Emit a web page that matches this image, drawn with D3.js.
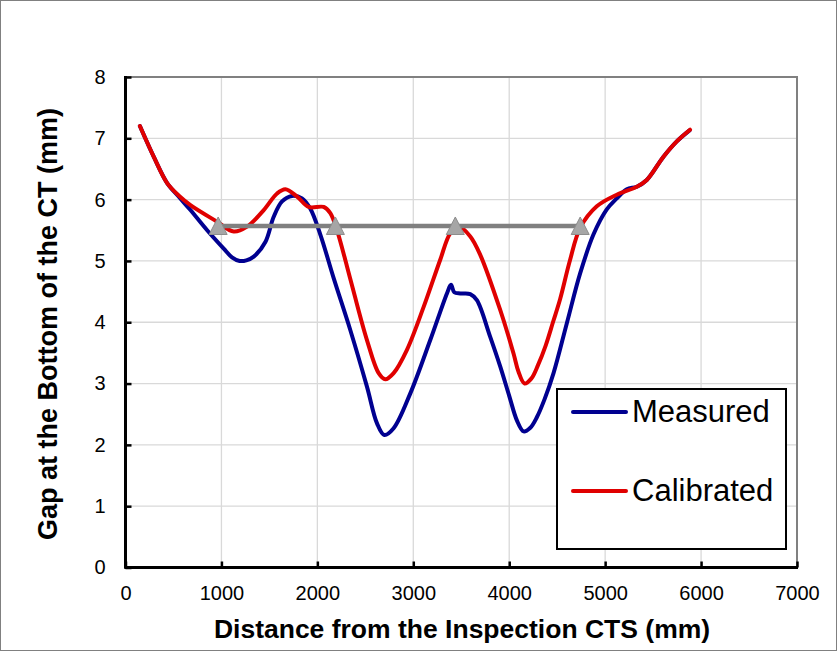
<!DOCTYPE html>
<html><head><meta charset="utf-8">
<script src="https://cdn.jsdelivr.net/npm/d3@7"></script>
<style>
html,body{margin:0;padding:0;background:#fff;}
text{font-family:"Liberation Sans",Arial,sans-serif;}
</style></head>
<body><svg id="c" width="837" height="651"></svg>
<script>
const xTicks = [0,1000,2000,3000,4000,5000,6000,7000];
const yTicks = [0,1,2,3,4,5,6,7,8];
const seriesNames = ["Measured","Calibrated"];
const measuredX = [150,300,434,560,677,851,1024,1110,1190,1260,1337,1458,1545,1632,1736,1840,1927,2031,2170,2344,2517,2622,2698,2795,2969,3177,3351,3393,3427,3490,3594,3663,3800,3906,4000,4080,4150,4220,4288,4370,4462,4600,4740,4878,5017,5122,5226,5330,5434,5608,5747,5880];
const measuredY = [7.2,6.68,6.27,6.04,5.83,5.5,5.2,5.06,5.0,5.01,5.07,5.31,5.72,5.97,6.06,6.02,5.85,5.43,4.72,3.87,2.95,2.35,2.16,2.27,2.84,3.71,4.47,4.61,4.49,4.47,4.46,4.36,3.77,3.28,2.8,2.4,2.22,2.28,2.45,2.75,3.17,3.98,4.8,5.43,5.84,6.02,6.17,6.21,6.32,6.7,6.95,7.13];
const calibratedX = [150,300,434,560,677,955,1128,1267,1441,1580,1667,1788,1910,2066,2135,2205,2309,2378,2517,2639,2708,2795,2934,3108,3281,3385,3472,3594,3698,3906,4045,4095,4160,4230,4300,4380,4460,4531,4635,4740,4913,5122,5330,5434,5608,5747,5885];
const calibratedY = [7.2,6.68,6.27,6.06,5.91,5.64,5.48,5.56,5.83,6.1,6.17,6.05,5.88,5.88,5.78,5.5,4.91,4.5,3.71,3.17,3.07,3.17,3.55,4.25,5.02,5.45,5.56,5.4,5.1,4.2,3.49,3.2,3.0,3.08,3.3,3.62,4.02,4.38,5.02,5.54,5.89,6.08,6.21,6.32,6.7,6.95,7.14];
const thresholdX = [966,2188,3438,4740];
const thresholdY = [5.57,5.57,5.57,5.57];

const svg = d3.select("#c");
const W=837,H=651;
const x = d3.scaleLinear().domain([0,7000]).range([125.5,797]);
const y = d3.scaleLinear().domain([0,8]).range([567.5,77]);

svg.append("rect").attr("x",0.5).attr("y",0.5).attr("width",W-1).attr("height",H-1)
  .attr("fill","#fff").attr("stroke","#808080").attr("stroke-width",1);

// gridlines
const g = svg.append("g");
g.selectAll(".gx").data(xTicks.filter(t=>t>0&&t<7000)).join("line")
  .attr("x1",d=>x(d)).attr("x2",d=>x(d)).attr("y1",y(0)).attr("y2",y(8))
  .attr("stroke","#d9d9d9").attr("stroke-width",1.3);
g.selectAll(".gy").data(yTicks.filter(t=>t>0&&t<8)).join("line")
  .attr("x1",x(0)).attr("x2",x(7000)).attr("y1",d=>y(d)).attr("y2",d=>y(d))
  .attr("stroke","#d9d9d9").attr("stroke-width",1.3);
// top & right border
g.append("path").attr("d",`M${x(0)},${y(8)}H${x(7000)}V${y(0)}`)
  .attr("fill","none").attr("stroke","#808080").attr("stroke-width",2);

// data lines
const line = d3.line().x(d=>x(d[0])).y(d=>y(d[1])).curve(d3.curveCatmullRom.alpha(0.5));
const mData = measuredX.map((v,i)=>[v,measuredY[i]]);
const cData = calibratedX.map((v,i)=>[v,calibratedY[i]]);
const tData = thresholdX.map((v,i)=>[v,thresholdY[i]]);
svg.append("path").datum(mData).attr("d",line).attr("fill","none")
  .attr("stroke","#000090").attr("stroke-width",4).attr("stroke-linejoin","round").attr("stroke-linecap","round");
svg.append("path").datum(cData).attr("d",line).attr("fill","none")
  .attr("stroke","#e00000").attr("stroke-width",4).attr("stroke-linejoin","round").attr("stroke-linecap","round");
svg.append("path").datum(tData).attr("d",d3.line().x(d=>x(d[0])).y(d=>y(d[1]))).attr("fill","none")
  .attr("stroke","#808080").attr("stroke-width",4.3);
svg.selectAll(".tri").data(tData).join("path")
  .attr("transform",d=>`translate(${x(d[0])},${y(d[1])})`)
  .attr("d","M0,-9L9,8.5L-9,8.5Z").attr("fill","#a6a6a6").attr("stroke","#8c8c8c").attr("stroke-width",1);

// axes
const xAxis = d3.axisBottom(x).tickValues(xTicks).tickSize(-6).tickPadding(18).tickFormat(d3.format("d"));
const gx = svg.append("g").attr("transform",`translate(0,${y(0)})`).call(xAxis);
gx.select(".domain").attr("stroke","#000").attr("stroke-width",3).attr("d",`M${x(0)-1},0H${x(7000)+1}`);
gx.selectAll(".tick line").attr("stroke","#000").attr("stroke-width",2.5);
gx.selectAll(".tick text").attr("font-size",20).attr("fill","#000").attr("font-family","Liberation Sans, Arial").attr("dy","0.72em");

const yAxis = d3.axisLeft(y).tickValues(yTicks).tickSize(-6).tickPadding(20);
const gy = svg.append("g").attr("transform",`translate(${x(0)},0)`).call(yAxis);
gy.select(".domain").attr("stroke","#000").attr("stroke-width",3).attr("d",`M0,${y(8)-1}V${y(0)+1}`);
gy.selectAll(".tick line").attr("stroke","#000").attr("stroke-width",2.5);
gy.selectAll(".tick text").attr("font-size",20).attr("fill","#000").attr("font-family","Liberation Sans, Arial");

// axis titles
svg.append("text").attr("x",462).attr("y",638).attr("text-anchor","middle")
  .attr("font-size",26.5).attr("font-weight","bold").text("Distance from the Inspection CTS (mm)");
svg.append("text").attr("transform","translate(57,324) rotate(-90)").attr("text-anchor","middle")
  .attr("font-size",27).attr("font-weight","bold").text("Gap at the Bottom of the CT (mm)");

// legend
const lg = svg.append("g");
lg.append("rect").attr("x",557).attr("y",389).attr("width",229).attr("height",160)
  .attr("fill","#fff").attr("stroke","#000").attr("stroke-width",2);
const colors = ["#000090","#e00000"];
seriesNames.forEach((n,i)=>{
  const ly = 412 + i*79;
  lg.append("line").attr("x1",573).attr("x2",626).attr("y1",ly).attr("y2",ly)
    .attr("stroke",colors[i]).attr("stroke-width",4).attr("stroke-linecap","round");
  lg.append("text").attr("x",632).attr("y",ly+10).attr("font-size",31).attr("fill","#000").text(n);
});
</script></body></html>
